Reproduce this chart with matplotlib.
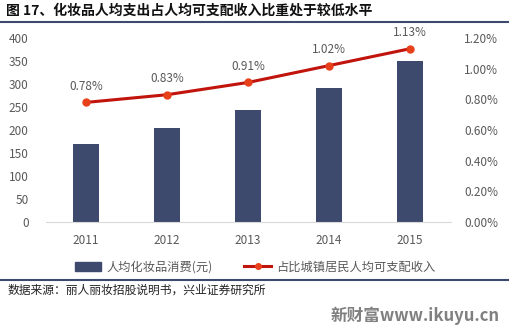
import matplotlib
matplotlib.use('Agg')
import matplotlib.pyplot as plt
from matplotlib.lines import Line2D
from matplotlib.patches import Patch

plt.rcParams['font.family'] = ['Noto Sans CJK SC', 'DejaVu Sans']

# data
years = ['2011', '2012', '2013', '2014', '2015']
spend = [170, 204, 243, 291, 351]
ratio = [0.78, 0.83, 0.91, 1.02, 1.13]
ratio_labels = ['0.78%', '0.83%', '0.91%', '1.02%', '1.13%']

bar_color = '#3e4a6d'
line_color = '#c0140c'
marker_color = '#e8401a'
txt_gray = '#595959'

fig = plt.figure(figsize=(5.15, 3.3), dpi=100)
W, H = 515, 330
ax = fig.add_axes([45.5 / W, 108 / H, 405 / W, 184 / H])

x = range(len(years))
ax.bar(x, spend, width=0.32, color=bar_color, zorder=2)
ax.set_xlim(-0.5, len(years) - 0.5)
ax.set_ylim(0, 400)
ax.set_yticks(range(0, 401, 50))
ax.set_xticks(list(x))
ax.set_xticklabels(years)
for s in ['top', 'left', 'right']:
    ax.spines[s].set_visible(False)
ax.spines['bottom'].set_color('#d9d9d9')
ax.tick_params(length=0, labelsize=8.5, colors=txt_gray)
ax.tick_params(axis='x', pad=9)
ax.tick_params(axis='y', pad=12)

ax2 = ax.twinx()
ax2.plot(list(x), ratio, color=line_color, lw=2.2, marker='o', ms=5,
         markerfacecolor=marker_color, markeredgecolor=marker_color, zorder=3)
ax2.set_ylim(0, 1.2)
ax2.set_yticks([0, 0.2, 0.4, 0.6, 0.8, 1.0, 1.2])
ax2.set_yticklabels(['%.2f%%' % v for v in [0, 0.2, 0.4, 0.6, 0.8, 1.0, 1.2]])
for s in ['top', 'left', 'right', 'bottom']:
    ax2.spines[s].set_visible(False)
ax2.tick_params(length=0, labelsize=8.5, colors=txt_gray, pad=10)
for i, lab in enumerate(ratio_labels):
    ax2.annotate(lab, (i, ratio[i]), xytext=(0, 7), textcoords='offset points',
                 ha='center', va='bottom', fontsize=8.5, color=txt_gray)

# legend
handles = [Patch(color=bar_color),
           Line2D([0], [0], color=line_color, lw=2.2, marker='o', ms=4,
                  markerfacecolor=marker_color, markeredgecolor=marker_color)]
fig.legend(handles, ['人均化妆品消费(元)', '占比城镇居民人均可支配收入'],
           loc='center', bbox_to_anchor=(255 / W, 1 - 267 / H), ncol=2,
           frameon=False, fontsize=8.8, labelcolor=txt_gray,
           handlelength=2.2, handleheight=0.7, columnspacing=2.6, handletextpad=0.4)

# title and frame lines
fig.text(6 / W, 1 - 11 / H, '图 17、化妆品人均支出占人均可支配收入比重处于较低水平',
         fontsize=10, fontweight='bold', color='#111111', va='center', ha='left')
fig.add_artist(Line2D([0, 508 / W], [1 - 22 / H, 1 - 22 / H], color=bar_color, lw=1.5))
fig.add_artist(Line2D([0, 508 / W], [1 - 280 / H, 1 - 280 / H], color=bar_color, lw=1.5))
fig.text(8 / W, 1 - 290 / H, '数据来源：丽人丽妆招股说明书，兴业证券研究所',
         fontsize=8.5, color='#222222', va='center', ha='left')
fig.text(500 / W, 1 - 316 / H, '新财富www.ikuyu.cn', fontsize=12, fontweight='bold',
         color='#808080', va='center', ha='right')

fig.savefig('out.png', dpi=100, facecolor='white')
